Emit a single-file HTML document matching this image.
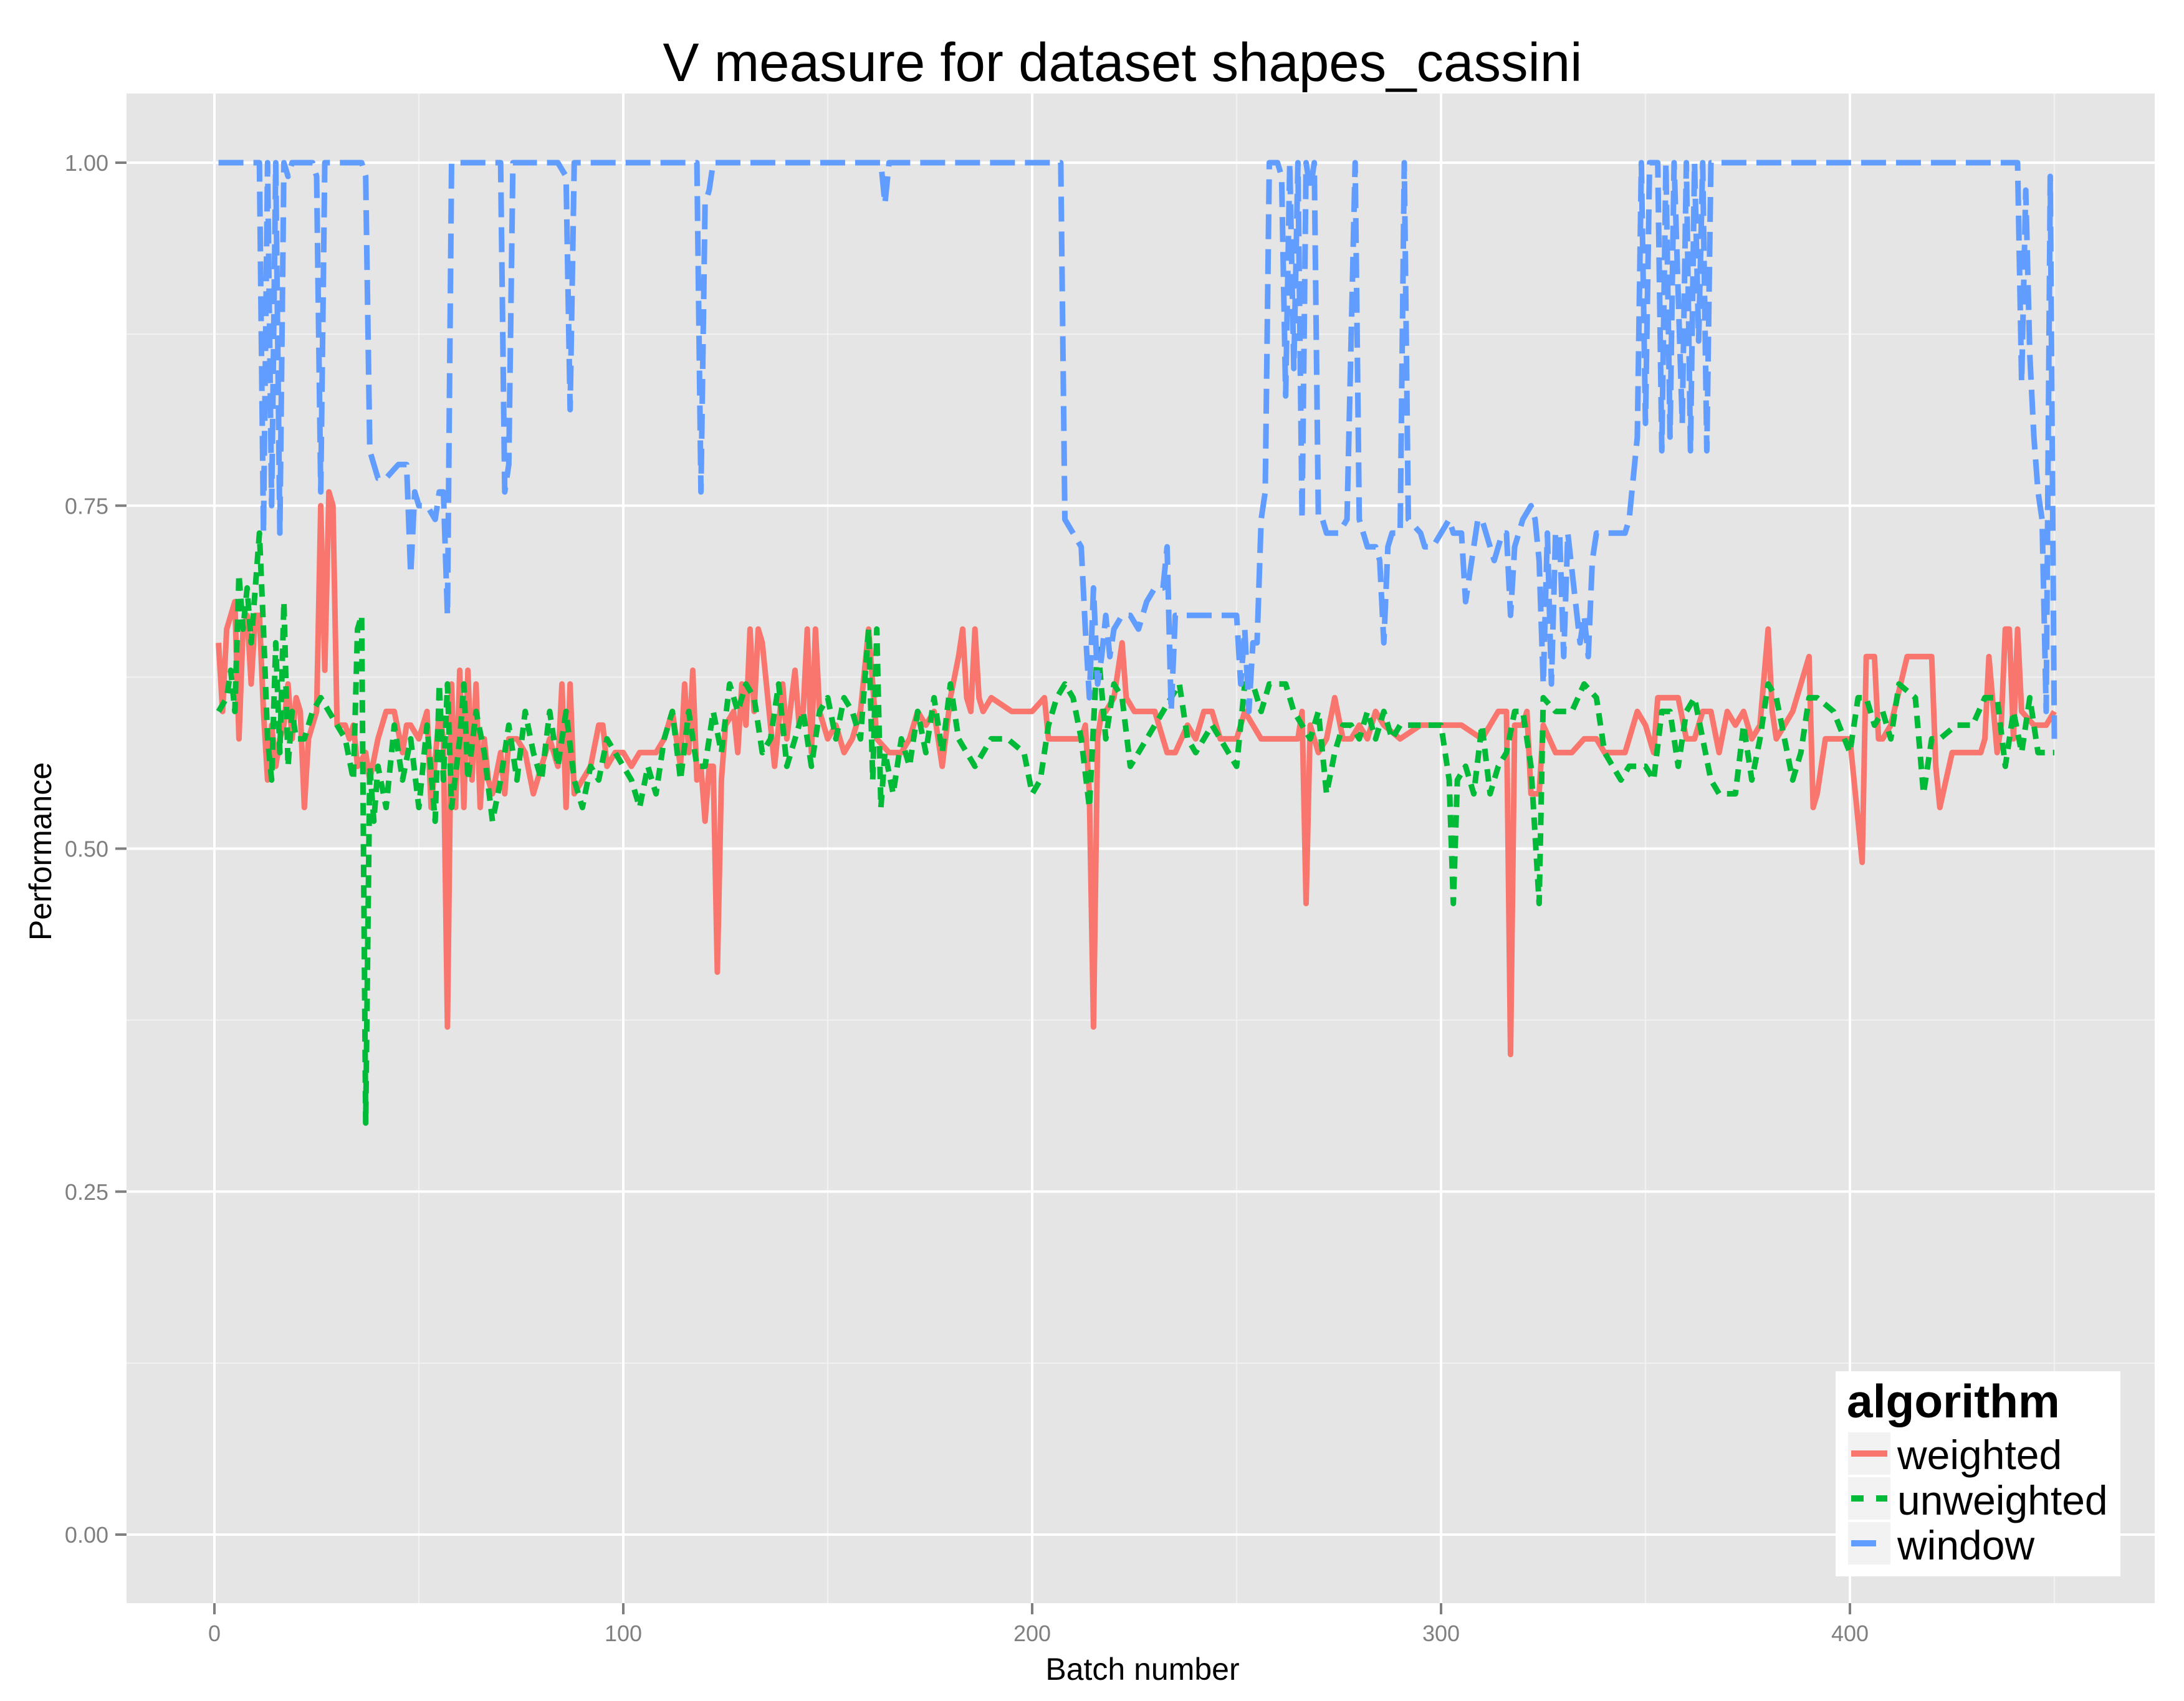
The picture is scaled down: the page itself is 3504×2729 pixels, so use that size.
<!DOCTYPE html>
<html><head><meta charset="utf-8"><style>
html,body{margin:0;padding:0;background:#fff;}
svg{display:block;font-family:"Liberation Sans",sans-serif;}
</style></head><body>
<svg id="chart" width="3504" height="2729" viewBox="0 0 3504 2729" xmlns="http://www.w3.org/2000/svg">
<rect x="203" y="150" width="3254" height="2422" fill="#E5E5E5"/>
<g id="grid"></g>
<g id="series"></g>
<g id="axes"></g>
<text x="1801" y="130" font-size="87" text-anchor="middle" fill="#000">V measure for dataset shapes_cassini</text>
<text x="1833" y="2695" font-size="50" text-anchor="middle" fill="#000">Batch number</text>
<text x="82" y="1366" font-size="50" text-anchor="middle" fill="#000" transform="rotate(-90 82 1366)">Performance</text>
<g>
<rect x="2945" y="2200" width="457" height="329" fill="#fff"/>
<text x="2963" y="2274" font-size="75" font-weight="bold" fill="#000">algorithm</text>
<g>
<rect x="2965" y="2298" width="68" height="68" fill="#F2F2F2"/>
<line x1="2970" y1="2332" x2="3028" y2="2332" stroke="#F8766D" stroke-width="10"/>
<text x="3044" y="2357" font-size="66" fill="#000">weighted</text></g>
<g>
<rect x="2965" y="2370" width="68" height="68" fill="#F2F2F2"/>
<line x1="2970" y1="2404" x2="3028" y2="2404" stroke="#00BA38" stroke-width="10" stroke-dasharray="20,20"/>
<text x="3044" y="2430" font-size="66" fill="#000">unweighted</text></g>
<g>
<rect x="2965" y="2442" width="68" height="68" fill="#F2F2F2"/>
<line x1="2970" y1="2476" x2="3010" y2="2476" stroke="#619CFF" stroke-width="10"/>
<text x="3044" y="2502" font-size="66" fill="#000">window</text></g>
</g>
</svg>
<script>
const xTicks=[0,100,200,300,400];
const xMinor=[50,150,250,350,450];
const yTicks=[0,0.25,0.5,0.75,1.0];
const yTickLabels=["0.00","0.25","0.50","0.75","1.00"];
const yMinor=[0.125,0.375,0.625,0.875];
const weightedX=[1,2,3,5,6,7,8,9,10,11,12,13,14,15,16,17,18,19,20,21,22,23,24,25,26,27,28,29,30,32,33,34,35,37,38,40,42,44,46,47,48,50,52,53,55,56,57,58,59,60,61,62,63,64,65,66,67,68,70,71,72,74,76,78,80,82,84,85,86,87,88,90,92,94,95,96,98,100,102,104,108,110,112,114,115,116,117,118,119,120,121,122,123,124,125,127,128,129,130,131,132,133,134,136,137,139,140,142,143,144,145,146,147,148,150,152,154,156,158,160,162,165,168,170,172,174,176,178,180,182,183,184,185,186,187,188,190,195,200,203,204,208,212,213,214,215,216,217,218,220,221,222,223,225,228,230,233,235,238,240,242,244,246,248,250,252,256,260,265,266,267,268,270,272,274,276,278,280,282,284,286,290,295,300,305,310,314,316,317,318,320,321,322,324,325,328,332,335,338,340,343,345,348,350,352,353,356,358,360,362,364,366,368,370,372,374,376,378,380,381,382,384,386,390,391,392,394,396,398,400,403,404,406,407,408,410,414,418,420,421,422,425,430,432,433,434,436,437,438,439,440,441,442,445,448,450];
const weightedY=[0.65,0.60,0.66,0.68,0.58,0.66,0.67,0.62,0.67,0.67,0.60,0.55,0.59,0.56,0.58,0.59,0.62,0.58,0.61,0.60,0.53,0.58,0.59,0.60,0.75,0.63,0.76,0.75,0.59,0.59,0.58,0.59,0.56,0.57,0.55,0.58,0.60,0.60,0.57,0.59,0.59,0.58,0.60,0.53,0.60,0.58,0.37,0.62,0.53,0.63,0.53,0.63,0.55,0.62,0.53,0.58,0.55,0.54,0.57,0.54,0.58,0.58,0.57,0.54,0.56,0.58,0.56,0.62,0.53,0.62,0.54,0.55,0.56,0.59,0.59,0.56,0.57,0.57,0.56,0.57,0.57,0.58,0.60,0.56,0.62,0.57,0.63,0.55,0.56,0.52,0.56,0.56,0.41,0.55,0.59,0.60,0.57,0.62,0.59,0.66,0.60,0.66,0.65,0.59,0.56,0.62,0.58,0.63,0.59,0.60,0.66,0.57,0.66,0.60,0.58,0.59,0.57,0.58,0.60,0.66,0.58,0.57,0.57,0.58,0.60,0.59,0.60,0.56,0.61,0.64,0.66,0.61,0.60,0.66,0.61,0.60,0.61,0.60,0.60,0.61,0.58,0.58,0.58,0.59,0.54,0.37,0.58,0.60,0.60,0.61,0.63,0.65,0.61,0.60,0.60,0.60,0.57,0.57,0.59,0.58,0.60,0.60,0.58,0.58,0.58,0.60,0.58,0.58,0.58,0.60,0.46,0.59,0.57,0.58,0.61,0.58,0.58,0.59,0.58,0.60,0.59,0.58,0.59,0.59,0.59,0.58,0.60,0.60,0.35,0.59,0.59,0.60,0.54,0.54,0.59,0.57,0.57,0.58,0.58,0.57,0.57,0.57,0.60,0.59,0.57,0.61,0.61,0.61,0.58,0.58,0.60,0.60,0.57,0.60,0.59,0.60,0.58,0.59,0.66,0.60,0.58,0.59,0.60,0.64,0.53,0.54,0.58,0.58,0.58,0.58,0.49,0.64,0.64,0.58,0.58,0.59,0.64,0.64,0.64,0.56,0.53,0.57,0.57,0.57,0.58,0.64,0.57,0.59,0.66,0.66,0.58,0.66,0.60,0.59,0.59,0.60,0.60];
const unweightedX=[1,3,4,5,6,7,8,9,10,11,12,13,14,15,16,17,18,19,20,22,24,26,28,30,32,34,35,36,37,38,39,40,42,44,46,48,50,52,54,55,56,57,58,60,61,62,64,66,68,70,72,74,76,78,80,82,84,86,88,90,92,94,96,98,100,102,104,106,108,110,112,114,116,118,120,122,124,126,128,130,132,134,136,138,140,142,144,146,148,150,152,154,156,158,160,161,162,163,164,166,168,170,172,174,176,178,180,182,184,186,188,190,194,198,200,202,204,206,208,210,212,214,216,218,220,222,224,226,228,230,232,234,236,238,240,242,244,246,250,252,254,256,258,262,264,266,268,270,272,274,276,278,280,282,284,286,288,290,292,296,300,302,303,304,306,308,310,312,314,316,318,320,322,324,325,328,330,332,335,338,340,342,344,346,348,350,352,354,356,358,360,362,364,366,368,372,374,376,378,380,382,386,388,390,392,396,400,402,404,406,408,410,412,416,418,420,422,426,430,433,436,438,440,442,444,446,450];
const unweightedY=[0.60,0.61,0.63,0.60,0.70,0.66,0.69,0.65,0.69,0.73,0.66,0.58,0.55,0.65,0.57,0.68,0.56,0.60,0.58,0.58,0.60,0.61,0.60,0.59,0.58,0.55,0.66,0.67,0.30,0.56,0.52,0.56,0.53,0.59,0.55,0.58,0.53,0.59,0.52,0.62,0.55,0.62,0.53,0.58,0.62,0.55,0.60,0.57,0.52,0.55,0.59,0.55,0.60,0.57,0.55,0.60,0.56,0.60,0.55,0.53,0.56,0.55,0.58,0.57,0.56,0.55,0.53,0.56,0.54,0.58,0.60,0.55,0.60,0.56,0.56,0.60,0.57,0.62,0.60,0.62,0.61,0.57,0.58,0.62,0.56,0.58,0.60,0.56,0.60,0.61,0.58,0.61,0.60,0.58,0.66,0.55,0.66,0.53,0.57,0.54,0.58,0.56,0.60,0.57,0.61,0.57,0.62,0.58,0.57,0.56,0.57,0.58,0.58,0.57,0.54,0.55,0.59,0.61,0.62,0.61,0.58,0.53,0.65,0.58,0.62,0.61,0.56,0.57,0.58,0.59,0.60,0.61,0.62,0.58,0.57,0.58,0.59,0.58,0.56,0.62,0.62,0.60,0.62,0.62,0.60,0.59,0.58,0.60,0.54,0.57,0.59,0.59,0.58,0.60,0.58,0.60,0.58,0.59,0.59,0.59,0.59,0.55,0.46,0.55,0.56,0.54,0.59,0.54,0.56,0.57,0.60,0.60,0.56,0.46,0.61,0.60,0.60,0.60,0.62,0.61,0.57,0.56,0.55,0.56,0.56,0.56,0.55,0.60,0.60,0.56,0.60,0.61,0.58,0.55,0.54,0.54,0.59,0.55,0.58,0.62,0.61,0.55,0.57,0.61,0.61,0.60,0.57,0.61,0.61,0.59,0.60,0.58,0.62,0.61,0.54,0.58,0.58,0.59,0.59,0.61,0.61,0.56,0.60,0.57,0.61,0.57,0.57];
const windowX=[1,11,12,13,14,15,16,17,18,19,24,25,26,27,36,37,38,39,40,42,45,47,48,49,50,52,54,55,56,57,58,59,60,70,71,72,73,84,86,87,88,118,119,120,121,122,163,164,165,207,208,210,212,213,214,215,216,217,218,219,220,222,224,226,228,230,232,233,234,235,238,250,251,252,253,254,255,256,257,258,260,261,262,263,264,265,266,267,268,269,270,271,272,275,277,279,280,282,284,285,286,287,288,290,291,292,295,296,298,300,302,303,305,306,307,309,310,312,313,314,315,316,317,318,320,322,323,324,325,326,327,328,329,330,331,334,335,336,337,338,341,345,346,348,349,350,351,353,354,355,356,357,359,360,361,362,363,364,365,366,400,441,442,443,444,445,446,447,448,449,450];
const windowY=[1.0,1.0,0.73,1.0,0.75,1.0,0.73,1.0,0.99,1.0,1.0,0.99,0.76,1.0,1.0,0.99,0.79,0.78,0.77,0.77,0.78,0.78,0.70,0.76,0.75,0.75,0.74,0.76,0.76,0.67,1.0,1.0,1.0,1.0,0.76,0.78,1.0,1.0,0.99,0.82,1.0,1.0,0.76,0.97,0.98,1.0,1.0,0.97,1.0,1.0,0.74,0.73,0.72,0.66,0.61,0.69,0.62,0.64,0.67,0.64,0.66,0.67,0.67,0.66,0.68,0.69,0.69,0.72,0.60,0.67,0.67,0.67,0.62,0.66,0.60,0.65,0.65,0.74,0.76,1.0,1.0,0.99,0.83,1.0,0.85,1.0,0.74,1.0,0.98,1.0,0.74,0.74,0.73,0.73,0.74,1.0,0.74,0.72,0.72,0.71,0.65,0.72,0.73,0.73,1.0,0.74,0.73,0.72,0.72,0.73,0.74,0.73,0.73,0.68,0.70,0.74,0.74,0.72,0.71,0.72,0.73,0.73,0.67,0.72,0.74,0.75,0.74,0.71,0.62,0.73,0.62,0.73,0.73,0.64,0.73,0.65,0.67,0.64,0.71,0.73,0.73,0.73,0.74,0.80,1.0,0.81,1.0,1.0,0.79,1.0,0.80,1.0,0.81,1.0,0.79,1.0,0.87,1.0,0.79,1.0,1.0,1.0,0.84,0.98,0.86,0.80,0.76,0.74,0.60,0.99,0.58];

const NS="http://www.w3.org/2000/svg";
const X0=344, XS=6.56, Y0=2462, YS=2201;
function xs(b){return X0+XS*b;}
function ys(v){return Y0-YS*v;}
const PL=203,PR=3457,PT=150,PB=2572;
const grid=document.getElementById('grid');
const axes=document.getElementById('axes');
const series=document.getElementById('series');
function mk(tag,attrs,parent){const e=document.createElementNS(NS,tag);for(const k in attrs)e.setAttribute(k,attrs[k]);parent.appendChild(e);return e;}
yMinor.forEach(v=>{const l=mk('line',{x1:PL,x2:PR,y1:ys(v),y2:ys(v),stroke:'#F2F2F2','stroke-width':2},grid);

});
xMinor.forEach(v=>{const l=mk('line',{x1:xs(v),x2:xs(v),y1:PT,y2:PB,stroke:'#F2F2F2','stroke-width':2},grid);

});
yTicks.forEach((v,i)=>{const l=mk('line',{x1:PL,x2:PR,y1:ys(v),y2:ys(v),stroke:'#FFFFFF','stroke-width':4},grid);


const t=mk('line',{x1:PL-18,x2:PL,y1:ys(v),y2:ys(v),stroke:'#7F7F7F','stroke-width':4},axes);


const tx=mk('text',{x:174,y:ys(v)+13,'font-size':36,'text-anchor':'end',fill:'#7F7F7F'},axes);
tx.textContent=yTickLabels[i];

});
xTicks.forEach(v=>{const l=mk('line',{x1:xs(v),x2:xs(v),y1:PT,y2:PB,stroke:'#FFFFFF','stroke-width':4},grid);


const t=mk('line',{x1:xs(v),x2:xs(v),y1:PB,y2:PB+18,stroke:'#7F7F7F','stroke-width':4},axes);


const tx=mk('text',{x:xs(v),y:2633,'font-size':36,'text-anchor':'middle',fill:'#7F7F7F'},axes);
tx.textContent=String(v);

});
function drawLine(X,Y,color,dash,name){
  const d=X.map((b,i)=>(i?'L':'M')+xs(b).toFixed(1)+' '+ys(Y[i]).toFixed(1)).join(' ');
  const p=mk('path',{d:d,fill:'none',stroke:color,'stroke-width':9,'stroke-linejoin':'round'},series);
  if(dash)p.setAttribute('stroke-dasharray',dash);
  
  
}
drawLine(weightedX,weightedY,'#F8766D',null,'weighted-line');
drawLine(unweightedX,unweightedY,'#00BA38','20,13','unweighted-line');
drawLine(windowX,windowY,'#619CFF','40,16','window-line');
</script>
</body></html>
